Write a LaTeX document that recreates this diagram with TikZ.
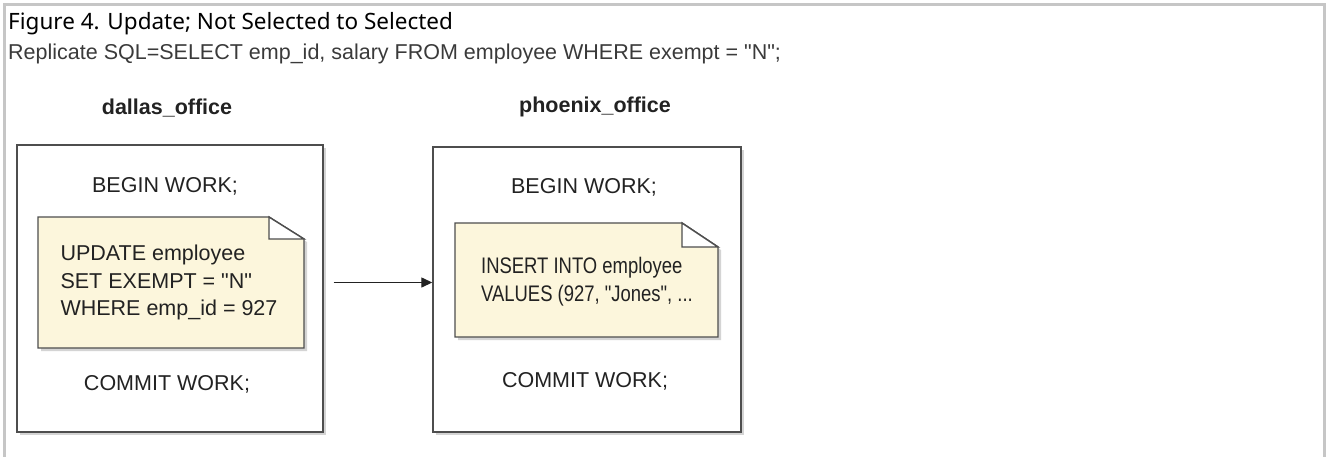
\documentclass[tikz,border=0pt]{standalone}
\usepackage{fontspec}
\setmainfont{Liberation Sans}
\newfontfamily\sqlfont{Liberation Sans}
\newfontfamily\captionfont{Noto Sans}
\newfontfamily\narrowfont[FakeStretch=0.82]{Liberation Sans}
\usetikzlibrary{arrows.meta,shadows}
\definecolor{frameline}{HTML}{C6C6C6}
\definecolor{boxline}{HTML}{4E4E4E}
\definecolor{notefill}{HTML}{FCF6DC}
\definecolor{shadowgray}{HTML}{D4D4D4}
\definecolor{textink}{HTML}{222222}
\definecolor{sqlink}{HTML}{3A3A3A}
\newcommand{\sqlsize}{\sqlfont\fontsize{21.5}{27.5}\selectfont}
% note sheet with a folded corner: x1, y1, x2, y2, fold width, fold height
\newcommand{\notesheet}[6]{%
  \fill[shadowgray] ({#1+3},{#2+3}) -- ({#3-#5+3},{#2+3}) -- ({#3+3},{#2+#6+3})
    -- ({#3+3},{#4+3}) -- ({#1+3},{#4+3}) -- cycle;
  \filldraw[sheet] (#1,#2) -- ({#3-#5},#2) -- (#3,{#2+#6}) -- (#3,#4) -- (#1,#4) -- cycle;
  \filldraw[sheet, fill=white] ({#3-#5},#2) -- ({#3-#5},{#2+#6}) -- (#3,{#2+#6}) -- cycle;
}

\begin{document}
\begin{tikzpicture}[
  x=1pt,
  y=-1pt,
  every node/.style={font=\sqlsize, textink, inner sep=0pt},
  frame/.style={frameline, line width=3pt},
  office/.style={draw=boxline, line width=1.4pt, fill=white,
                 drop shadow={shadow xshift=3pt, shadow yshift=-3pt,
                              fill=shadowgray, opacity=1}},
  sheet/.style={draw=boxline, line width=1.4pt, fill=notefill},
  sitename/.style={font=\bfseries\sqlsize, anchor=base},
  figcaption/.style={font=\captionfont\fontsize{22.5}{27}\selectfont,
                     black, anchor=base west},
  flow/.style={textink, line width=1.3pt,
               -{Triangle[length=11pt, width=10pt]}}
]
  \useasboundingbox (0,0) rectangle (1326,456);

  % ---- outer frame, open at the foot ----------------------------------
  \draw[frame] (4.5,470) -- (4.5,4.5) -- (1324.5,4.5) -- (1324.5,470);

  % ---- heading lines --------------------------------------------------
  \node[figcaption] (caption) at (8,29)
    {Figure 4. Update; Not Selected to Selected};
  \node[sqlink, anchor=base west] (replicate) at (8,59)
    {Replicate SQL=SELECT emp\_id, salary FROM employee WHERE exempt = "N";};

  % ---- the two offices ------------------------------------------------
  \node[sitename] (dallasname) at (167,114) {dallas\_office};
  \node[sitename] (phoenixname) at (595,112) {phoenix\_office};

  \node[office, minimum width=306pt, minimum height=287pt]
    (dallas) at (170,288.5) {};
  \node[office, minimum width=308pt, minimum height=285pt]
    (phoenix) at (587,289.5) {};

  % ---- dallas transaction ---------------------------------------------
  \node[anchor=base] (dbegin) at (165,192) {BEGIN WORK;};
  \notesheet{38}{217}{304}{348}{35}{22}
  \node[align=left] (dupdate) at (169,282.5)
    {UPDATE employee\\SET EXEMPT = "N"\\WHERE emp\_id = 927};
  \node[anchor=base] (dcommit) at (167,390) {COMMIT WORK;};

  % ---- phoenix transaction --------------------------------------------
  \node[anchor=base] (pbegin) at (584,193) {BEGIN WORK;};
  \notesheet{455}{223}{718}{337}{36}{24}
  \node[align=left, font=\narrowfont\fontsize{22.5}{28}\selectfont]
    (pinsert) at (587,282) {INSERT INTO employee\\VALUES (927, "Jones", ...};
  \node[anchor=base] (pcommit) at (585,387) {COMMIT WORK;};

  % ---- replication arrow ----------------------------------------------
  \path (dallas.east |- dupdate.center) ++(10,0) coordinate (flowstart);
  \draw[flow] (flowstart) -- (flowstart -| phoenix.west);

\end{tikzpicture}
\end{document}
